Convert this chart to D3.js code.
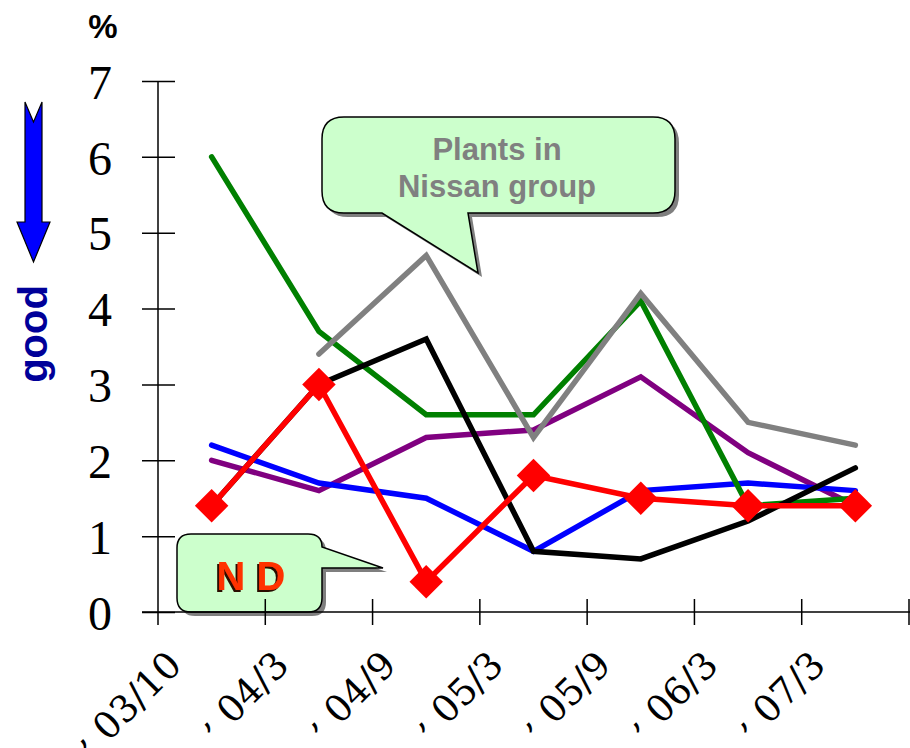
<!DOCTYPE html>
<html>
<head>
<meta charset="utf-8">
<script src="https://cdn.jsdelivr.net/npm/d3@7"></script>
<style>
  body { margin: 0; background: #fff; }
  svg { display: block; }
</style>
</head>
<body>
<script>
// values, per period
var categories = [", 03/10", ", 04/3", ", 04/9", ", 05/3", ", 05/9", ", 06/3", ", 07/3"];
var yTicks = [0, 1, 2, 3, 4, 5, 6, 7];

var purple = [2.0, 1.6, 2.3, 2.4, 3.1, 2.1, 1.4];
var blue   = [2.2, 1.7, 1.5, 0.8, 1.6, 1.7, 1.6];
var green  = [6.0, 3.7, 2.6, 2.6, 4.1, 1.4, 1.5];
var gray   = [null, 3.4, 4.7, 2.3, 4.2, 2.5, 2.2];
var black  = [1.4, 3.0, 3.6, 0.8, 0.7, 1.2, 1.9];
var red    = [1.4, 3.0, 0.4, 1.8, 1.5, 1.4, 1.4];

var width = 910, height = 748;

var svg = d3.select("body").append("svg")
    .attr("width", width)
    .attr("height", height);

var x = d3.scaleBand()
    .domain(categories)
    .range([158, 909]);

var y = d3.scaleLinear()
    .domain([0, 7])
    .range([612, 81]);

var serif = "'Liberation Serif', 'Times New Roman', serif";
var serifWide = "'DejaVu Serif', serif";
var sans = "'Liberation Sans', Arial, sans-serif";

var defs = svg.append("defs");
defs.append("filter")
    .attr("id", "ndShadow")
    .attr("x", "-20%").attr("y", "-20%")
    .attr("width", "140%").attr("height", "140%")
    .append("feDropShadow")
    .attr("dx", -2).attr("dy", 2)
    .attr("stdDeviation", 0.4)
    .attr("flood-color", "#2a0a00")
    .attr("flood-opacity", 1);

// callout bubbles (shadow first, then bubble)
var nissanBubble = "M 344,117 H 653 Q 675,117 675,139 V 191 Q 675,213 653,213 H 468 L 478,273 L 382,213 H 344 Q 322,213 322,191 V 139 Q 322,117 344,117 Z";
var ndBubble = "M 191,534 H 308 Q 322,534 322,547 L 383,568 L 322,568 V 598 Q 322,612 308,612 H 191 Q 177,612 177,598 V 548 Q 177,534 191,534 Z";

[nissanBubble, ndBubble].forEach(function(p){
    svg.append("path")
        .attr("d", p)
        .attr("transform", "translate(4,4)")
        .attr("fill", "#7f7f7f");
    svg.append("path")
        .attr("d", p)
        .attr("fill", "#ccffcc")
        .attr("stroke", "#000")
        .attr("stroke-width", 1.5);
});

svg.append("text")
    .attr("x", 497).attr("y", 160)
    .attr("text-anchor", "middle")
    .attr("font-family", sans)
    .attr("font-weight", "bold")
    .attr("font-size", 31)
    .attr("fill", "#808080")
    .text("Plants in");
svg.append("text")
    .attr("x", 497).attr("y", 197)
    .attr("text-anchor", "middle")
    .attr("font-family", sans)
    .attr("font-weight", "bold")
    .attr("font-size", 31)
    .attr("fill", "#808080")
    .text("Nissan group");

svg.append("text")
    .attr("x", 251).attr("y", 590)
    .attr("text-anchor", "middle")
    .attr("font-family", sans)
    .attr("font-weight", "bold")
    .attr("font-size", 40)
    .attr("fill", "#ff3300")
    .attr("filter", "url(#ndShadow)")
    .text("N D");

// y axis
var yAxis = svg.append("g")
    .attr("transform", "translate(158,0)")
    .call(d3.axisLeft(y).tickValues(yTicks).tickSize(16).tickPadding(30).tickFormat(d3.format("d")));
yAxis.select(".domain").remove();
yAxis.selectAll(".tick line")
    .attr("x1", 17)
    .attr("stroke", "#000")
    .attr("stroke-width", 1.5);
yAxis.selectAll(".tick text")
    .attr("font-family", serif)
    .attr("font-size", 48)
    .attr("fill", "#000")
    .attr("dy", "0.36em");

svg.append("line")
    .attr("x1", 158).attr("x2", 158)
    .attr("y1", y(7)).attr("y2", 625)
    .attr("stroke", "#000")
    .attr("stroke-width", 1.5);

// x axis
svg.append("line")
    .attr("x1", 142).attr("x2", 910)
    .attr("y1", y(0)).attr("y2", y(0))
    .attr("stroke", "#000")
    .attr("stroke-width", 1.5);

var bounds = categories.map(function(c){ return x(c); }).concat([x.range()[1]]);
svg.append("g").selectAll("line")
    .data(bounds.slice(1))
    .enter()
    .append("line")
    .attr("x1", function(d){ return d; })
    .attr("x2", function(d){ return d; })
    .attr("y1", y(0) - 13)
    .attr("y2", y(0) + 13)
    .attr("stroke", "#000")
    .attr("stroke-width", 1.5);

// slanted period labels; the leading comma sits a bit higher, as in the original
var xLabels = svg.append("g").selectAll("text")
    .data(categories)
    .enter()
    .append("text")
    .attr("transform", function(d){
        return "translate(" + (x(d) + x.bandwidth() / 2 - 28) + ",667) rotate(-45)";
    })
    .attr("text-anchor", "end")
    .attr("font-family", serifWide)
    .attr("font-size", 37)
    .attr("fill", "#000");
xLabels.append("tspan")
    .attr("dy", -16)
    .text(function(d){ return d.slice(0, 1); });
xLabels.append("tspan")
    .attr("dy", 16)
    .text(function(d){ return d.slice(1); });

// "%" and the "good" arrow
svg.append("text")
    .attr("x", 103).attr("y", 38)
    .attr("text-anchor", "middle")
    .attr("font-family", sans)
    .attr("font-weight", "bold")
    .attr("font-size", 33)
    .attr("fill", "#000")
    .text("%");

svg.append("path")
    .attr("d", "M 25,102 L 33.5,122 L 42,102 L 42,222 L 50,222 L 33.5,262 L 17,222 L 25,222 Z")
    .attr("fill", "#0000ff")
    .attr("stroke", "#000")
    .attr("stroke-width", 1.2);

svg.append("text")
    .attr("transform", "translate(47,334) rotate(-90)")
    .attr("text-anchor", "middle")
    .attr("font-family", sans)
    .attr("font-weight", "bold")
    .attr("font-size", 40)
    .attr("fill", "#000099")
    .text("good");

// series lines
var series = [
    {values: purple, color: "#800080"},
    {values: blue,   color: "#0000ff"},
    {values: green,  color: "#008000"},
    {values: gray,   color: "#808080"},
    {values: black,  color: "#000000"},
    {values: red,    color: "#ff0000"}
];

var line = d3.line()
    .defined(function(d){ return d != null; })
    .x(function(d, i){ return x(categories[i]) + x.bandwidth() / 2; })
    .y(function(d){ return y(d); });

svg.append("g").selectAll("path")
    .data(series)
    .enter()
    .append("path")
    .attr("d", function(s){ return line(s.values); })
    .attr("fill", "none")
    .attr("stroke", function(s){ return s.color; })
    .attr("stroke-width", 5.5)
    .attr("stroke-linejoin", "miter")
    .attr("stroke-linecap", "round");

// red diamond markers
var diamond = d3.symbol().type(d3.symbolSquare).size(560);
svg.append("g").selectAll("path")
    .data(red)
    .enter()
    .append("path")
    .attr("d", diamond)
    .attr("transform", function(d, i){
        return "translate(" + (x(categories[i]) + x.bandwidth() / 2) + "," + y(d) + ") rotate(45)";
    })
    .attr("fill", "#ff0000");
</script>
</body>
</html>
